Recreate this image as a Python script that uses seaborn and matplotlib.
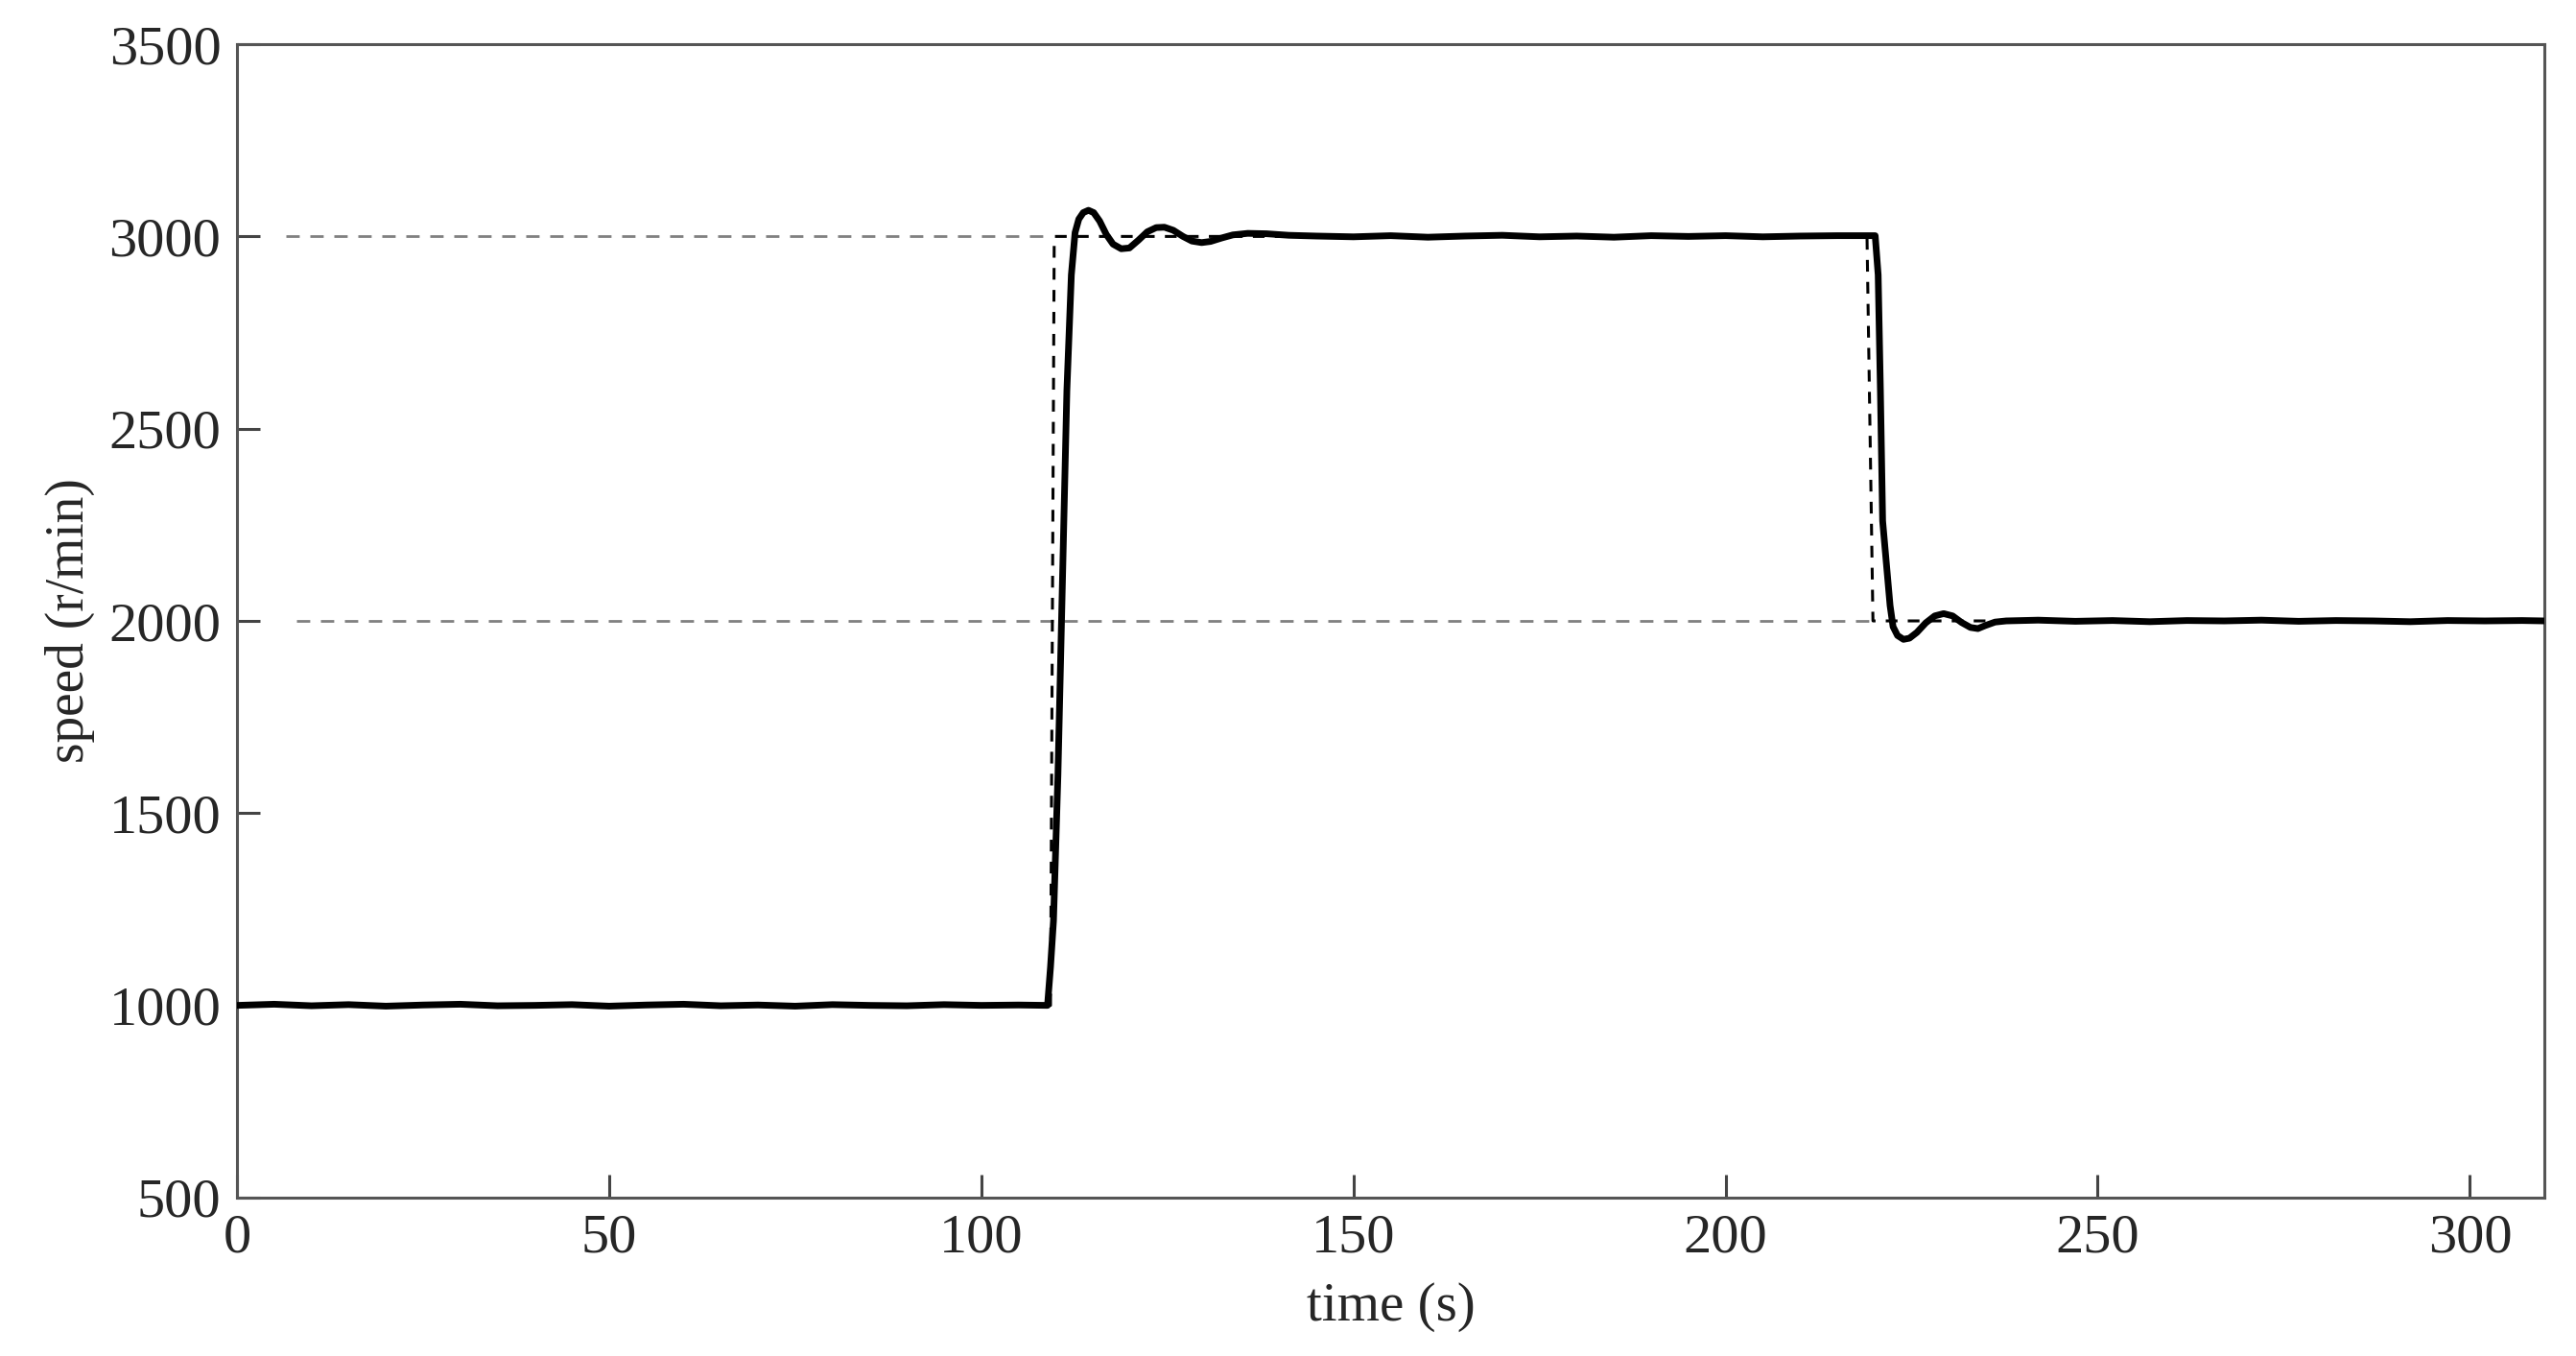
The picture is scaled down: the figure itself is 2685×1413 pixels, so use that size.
"""
Speed step response: measured speed (solid) vs. reference (dashed)
"""

import matplotlib
matplotlib.use("Agg")
import matplotlib.pyplot as plt
import seaborn as sns
import pandas as pd

sns.set_style("ticks")
plt.rcParams["font.family"] = ["Liberation Serif", "DejaVu Serif"]

time_s = [0, 5, 10, 15, 20, 25, 30, 35, 40, 45, 50, 55, 60, 65, 70, 75, 80, 85,
          90, 95, 100, 105, 108.9,
          109.3, 109.7, 110.3, 110.9, 111.5, 112.1, 112.6, 113.1, 113.7, 114.4,
          115.1, 115.9, 116.8, 117.7, 118.8, 119.9, 121.1, 122.3, 123.5, 124.6,
          125.8, 127.1, 128.3, 129.6, 130.8, 132.3, 133.8, 135.8, 138.3, 141.3,
          145, 150, 155, 160, 165, 170, 175, 180, 185, 190, 195, 200, 205, 210,
          215, 220.1,
          220.5, 220.8, 221.1, 221.6, 222.1, 222.5, 223.1, 223.9, 224.7, 225.7,
          226.9, 228.1, 229.3, 230.5, 231.7, 232.9, 233.9, 234.9, 236.2, 237.7,
          242, 247, 252, 257, 262, 267, 272, 277, 282, 287, 292, 297, 302, 307, 310]
speed = [1000, 1003, 999, 1002, 998, 1001, 1003, 999, 1000, 1002, 998, 1001, 1003,
         999, 1001, 998, 1002, 1000, 999, 1002, 1000, 1001, 1000,
         1100, 1220, 1600, 2100, 2600, 2900, 3010, 3045, 3062, 3068,
         3062, 3040, 3005, 2980, 2968, 2970, 2990, 3012, 3023, 3024,
         3016, 3000, 2988, 2984, 2987, 2996, 3004, 3008, 3007, 3003,
         3001, 2999, 3002, 2998, 3001, 3003, 2999, 3001, 2998, 3002, 3000,
         3002, 2999, 3001, 3002, 3002,
         2900, 2600, 2260, 2150, 2040, 1985, 1962, 1952, 1955, 1970,
         1995, 2013, 2019, 2013, 1996, 1983, 1980, 1988, 1997, 2000,
         2002, 1999, 2001, 1998, 2001, 2000, 2002, 1999, 2001, 2000, 1998,
         2001, 2000, 2001, 2000]

# reference speed
ref_time = [0, 109.3, 109.8, 219.0, 219.8, 310]
ref_speed = [1000, 1000, 3000, 3000, 2000, 2000]

# grey guide lines
guide_levels = [3000, 2000]
guide_start = [6.6, 8.0]
guide_end = [109.6, 219.6]

meas = pd.DataFrame({"time": time_s, "speed": speed})
ref = pd.DataFrame({"time": ref_time, "speed": ref_speed})

fig = plt.figure(figsize=(26.85, 14.13), dpi=100)
ax = fig.add_axes([0.092, 0.1168, 0.8957, 0.8506])

for lvl, x0, x1 in zip(guide_levels, guide_start, guide_end):
    ax.plot([x0, x1], [lvl, lvl], color="#808080", lw=2.0,
            linestyle=(0, (5, 4)), zorder=1)

sns.lineplot(data=ref, x="time", y="speed", sort=False, estimator=None,
             color="black", lw=2.2, linestyle=(0, (4, 3.5)), ax=ax, zorder=2)
sns.lineplot(data=meas, x="time", y="speed", sort=False, estimator=None,
             color="black", lw=5, ax=ax, zorder=3)

ax.set_xlim(0, 310)
ax.set_ylim(500, 3500)
ax.set_xticks(range(0, 301, 50))
ax.set_yticks(range(500, 3501, 500))

ax.set_xlabel("time (s)", fontsize=41, labelpad=14)
ax.set_ylabel("speed (r/min)", fontsize=40, labelpad=10)
ax.tick_params(direction="in", length=17, width=2.2, labelsize=42,
               color="#444444", pad=12, top=False, right=False)
for sp in ax.spines.values():
    sp.set_visible(True)
    sp.set_linewidth(2.2)
    sp.set_color("#555555")

fig.savefig("out.png", dpi=100, facecolor="white")
